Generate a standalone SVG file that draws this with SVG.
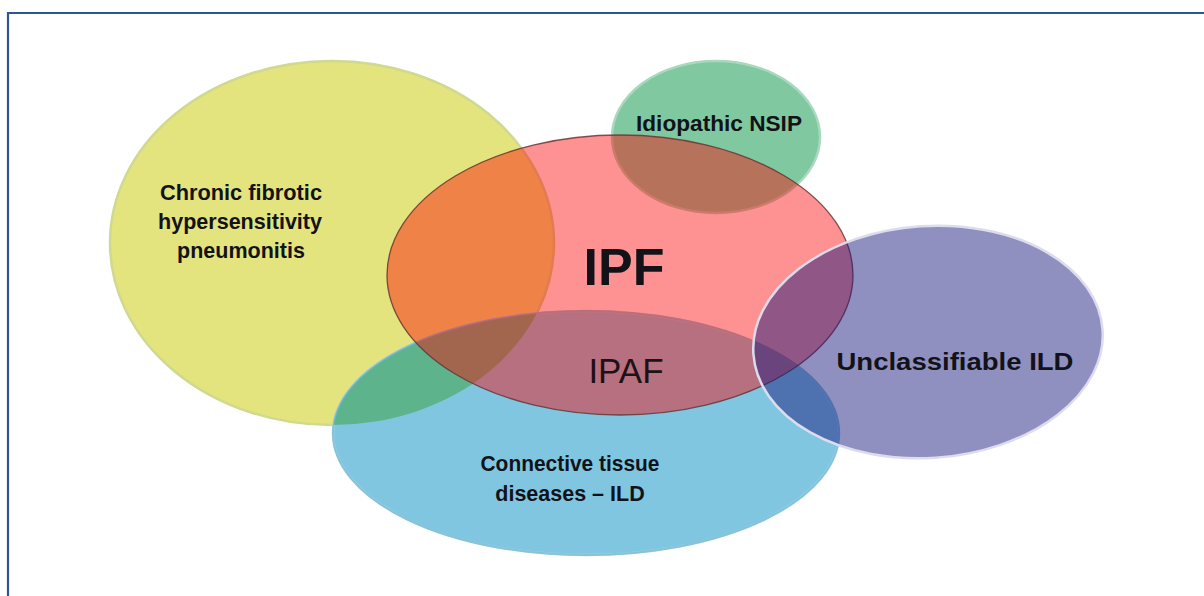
<svg xmlns="http://www.w3.org/2000/svg" width="1204" height="596" viewBox="0 0 1204 596">
  <style>
    .lbl { font-family: "Liberation Sans", Arial, sans-serif; font-weight: bold; fill: #121218; text-anchor: middle; }
    .lbl-plain { font-weight: normal; fill: #1e1216; }
    .frame { fill: none; stroke: #2f5597; stroke-width: 2.2; }
    .soft { filter: url(#soft-edge); }
  </style>
  <defs>
    <ellipse id="shape-hp" cx="332" cy="243" rx="222" ry="182"/>
    <ellipse id="shape-ctd" cx="586" cy="433" rx="253" ry="122"/>
    <clipPath id="clip-ctd"><use href="#shape-ctd"/></clipPath>
    <filter id="soft-edge" x="-5%" y="-5%" width="110%" height="110%">
      <feGaussianBlur stdDeviation="0.7"/>
    </filter>
  </defs>

  <rect width="1204" height="596" fill="#ffffff"/>
  <path class="frame" d="M8 596 V13 H1204"/>

  <!-- chronic fibrotic hypersensitivity pneumonitis -->
  <g id="node-hp" class="soft">
    <use href="#shape-hp" fill="#e3e47e" stroke="#cfd98f" stroke-width="2.5"/>
  </g>

  <!-- connective tissue disease ILD, with its overlap on the HP circle -->
  <g id="node-ctd" class="soft">
    <use href="#shape-ctd" fill="#80c6e0" stroke="#a9d7e8" stroke-width="2.5"/>
    <use href="#shape-hp" clip-path="url(#clip-ctd)" fill="#5db38c"/>
    <use href="#shape-ctd" fill="none" stroke="#6fb4d0" stroke-opacity="0.6" stroke-width="2"/>
  </g>

  <!-- idiopathic NSIP -->
  <g id="node-nsip" class="soft">
    <ellipse cx="716" cy="137" rx="104" ry="76" fill="#80c8a0" stroke="#a8d8bd" stroke-width="2.5"/>
  </g>

  <!-- IPF -->
  <g id="node-ipf">
    <ellipse cx="620" cy="275" rx="233" ry="140" fill="#fd0000" fill-opacity="0.43" stroke="#6a3434" stroke-opacity="0.85" stroke-width="1.3"/>
  </g>

  <!-- unclassifiable ILD -->
  <g id="node-unc" class="soft">
    <ellipse cx="928" cy="342" rx="175" ry="116" transform="rotate(-4 928 342)" fill="#1c187c" fill-opacity="0.48" stroke="#dcdcee" stroke-width="2.5"/>
  </g>

  <!-- labels -->
  <g id="labels">
    <text class="lbl" x="241" y="200" font-size="21.5" textLength="162" lengthAdjust="spacingAndGlyphs">Chronic fibrotic</text>
    <text class="lbl" x="240" y="229" font-size="21.5" textLength="164" lengthAdjust="spacingAndGlyphs">hypersensitivity</text>
    <text class="lbl" x="241" y="258" font-size="21.5">pneumonitis</text>
    <text class="lbl" x="719" y="131" font-size="21.5" textLength="166" lengthAdjust="spacingAndGlyphs">Idiopathic NSIP</text>
    <text class="lbl" x="624" y="285" font-size="52">IPF</text>
    <text class="lbl lbl-plain" x="626" y="383" font-size="35">IPAF</text>
    <text class="lbl" x="955" y="370" font-size="23" textLength="237" lengthAdjust="spacingAndGlyphs">Unclassifiable ILD</text>
    <text class="lbl" x="570" y="471" font-size="21.5" textLength="179" lengthAdjust="spacingAndGlyphs">Connective tissue</text>
    <text class="lbl" x="570" y="501" font-size="21.5">diseases – ILD</text>
  </g>
</svg>
